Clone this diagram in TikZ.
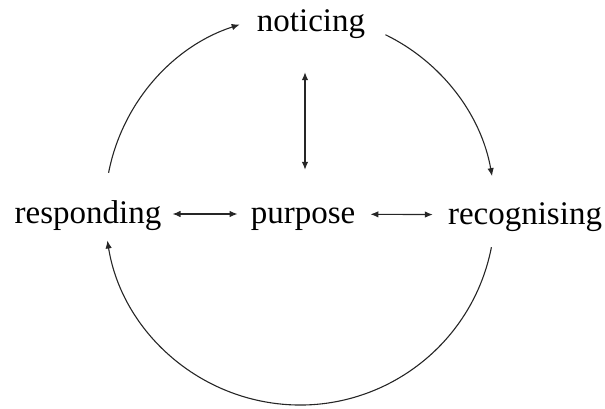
\documentclass[tikz,border=0pt]{standalone}
\usepackage{fontspec}
\setmainfont{Liberation Serif}
\usetikzlibrary{arrows.meta, positioning}

\begin{document}
\begin{tikzpicture}[
    x=1pt, y=1pt,
    >={Latex[length=8pt,width=6.5pt]},
    font=\fontsize{33}{38}\selectfont,
    word/.style={
        anchor=base, inner sep=0pt, text height=24pt, text depth=6pt
    },
    arr/.style={->, draw=black!85, line width=1.1pt},
    dbl/.style={<->, draw=black!85, line width=1.1pt},
]
\useasboundingbox (0,0) rectangle (605,408);
% ---------- stages of the cycle ----------
\node[word] (noticing)    at (311, 376) {noticing};
\node[word] (responding)  at ( 88, 185) {responding};
\node[word] (purpose)     at (303, 185) {purpose};
\node[word] (recognising) at (525, 184) {recognising};
% ---------- centre of the outer cycle ----------
\coordinate (hub) at (300, 198);
% ===================== EDGES =====================
% outer cycle (arcs round the hub)
\draw[arr] ([shift={(169:195)}]hub) arc[start angle=169, end angle=108, radius=195];
\draw[arr] ([shift={(64:195)}]hub)  arc[start angle=64,  end angle=10,  radius=195];
\draw[arr] ([shift={(-11:195)}]hub) arc[start angle=-11, end angle=-171, radius=195];
% purpose <-> the three stages
\draw[dbl, shorten <=29pt, shorten >=34pt] ([xshift=2pt]purpose.north) -- ([xshift=2pt]purpose.north |- noticing.south);
\draw[dbl, shorten <=11pt, shorten >=13pt] (responding) -- (purpose);
\draw[dbl, shorten <=15pt, shorten >=15pt] (purpose) -- (recognising);
\end{tikzpicture}
\end{document}
